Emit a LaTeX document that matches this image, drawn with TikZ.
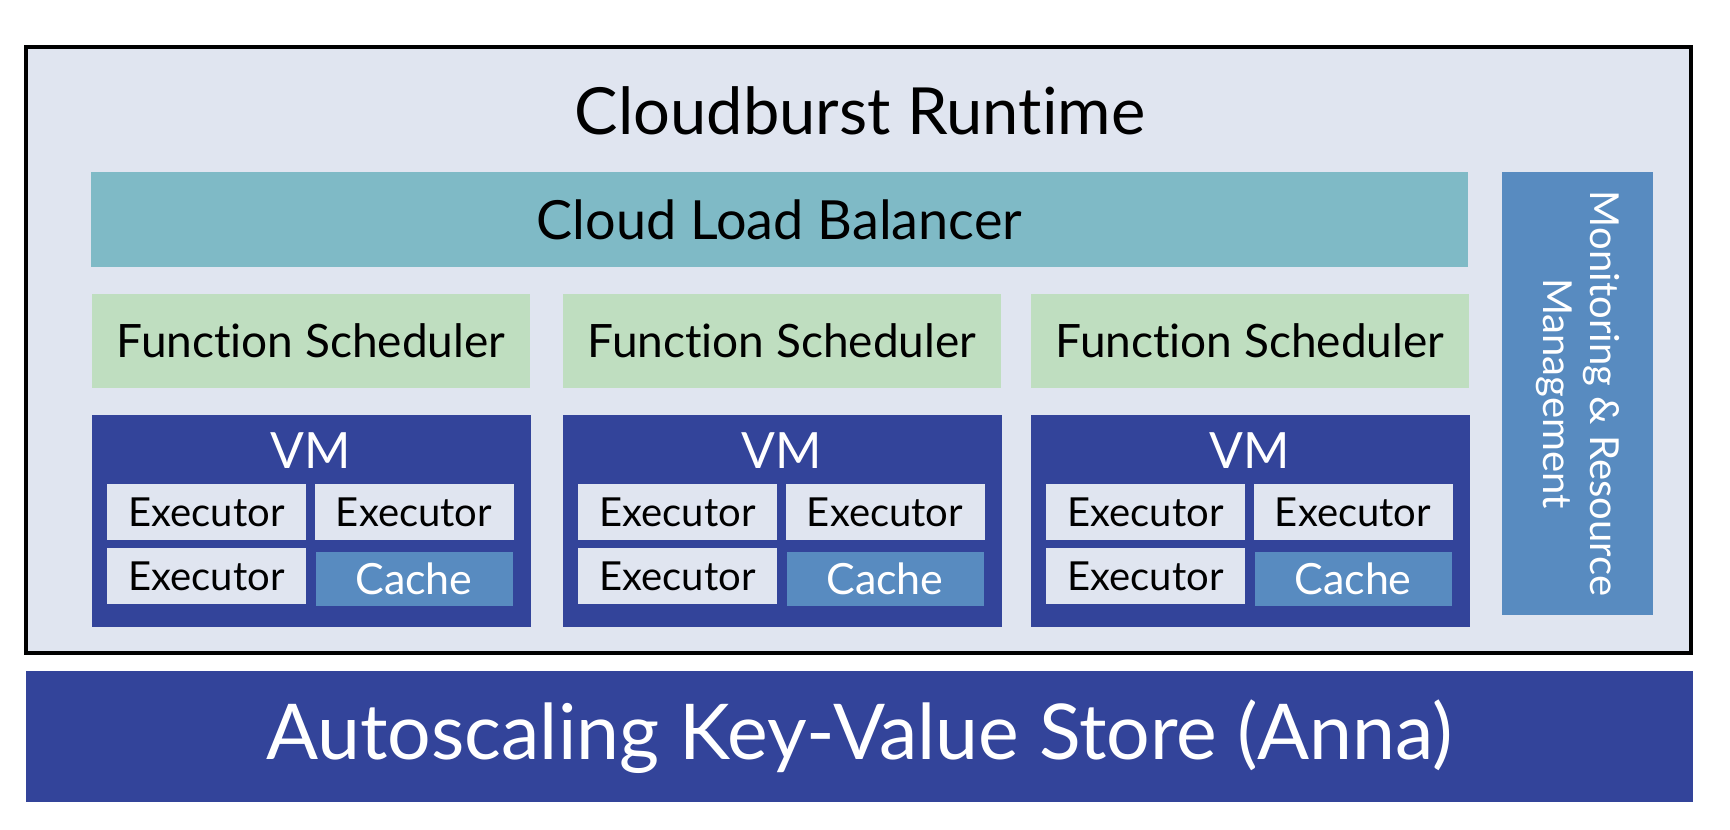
\documentclass[tikz,border=0pt]{standalone}
\usepackage{fontspec}
\setmainfont{Lato}[Ligatures=NoCommon]
\usetikzlibrary{calc}
\definecolor{bgpanel}{RGB}{224,229,240}
\definecolor{lbteal}{RGB}{127,186,198}
\definecolor{schedgreen}{RGB}{191,222,192}
\definecolor{vmblue}{RGB}{51,68,154}
\definecolor{cacheblue}{RGB}{88,139,192}
\begin{document}
\begin{tikzpicture}[x=1pt,y=-1pt,
  box/.style={rectangle, inner sep=0pt, outer sep=0pt, draw=none},
  fs/.style={font=\fontsize{#1}{#1}\selectfont},
  lbbox/.style={box, fill=lbteal, minimum width=1377pt, minimum height=95pt, fs=54},
  schedbox/.style={box, fill=schedgreen, minimum width=438pt, minimum height=94pt, fs=46},
  vmbox/.style={box, fill=vmblue, minimum width=439pt, minimum height=212pt},
  vmlabel/.style={inner sep=0pt, text=white, fs=50},
  execbox/.style={box, fill=bgpanel, minimum width=199pt, minimum height=56pt, fs=40},
  cachebox/.style={box, fill=cacheblue, text=white, minimum width=197pt, minimum height=54pt, fs=43},
]
\useasboundingbox (0,0) rectangle (1730,830);
\fill[white] (0,0) rectangle (1730,830);

% outer runtime panel
\node[box, draw=black, line width=4pt, fill=bgpanel, minimum width=1665pt, minimum height=606pt] (outer) at (858.5,349.5) {};
\node[inner sep=0pt, fs=65] (title) at (860,111) {Cloudburst Runtime};

% load balancer
\node[lbbox] (lb) at (779.5,219.5) {Cloud Load Balancer};

% monitoring
\node[box, fill=cacheblue, text=white, rotate=-90, minimum width=443pt, minimum height=151pt,
      align=center, font=\fontsize{40}{47}\selectfont] (mon) at (1577.5,393.5) {Monitoring \& Resource\\Management};

% columns
\foreach \i/\cx in {1/311, 2/782, 3/1250} {
  \node[schedbox] (sched\i) at (\cx,341) {Function Scheduler};
  \node[vmbox] (vm\i) at (\cx,521) {};
  \node[vmlabel] (vmtext\i) at (\cx,451) {VM};
  \node[execbox] (exa\i) at ($(\cx,512)+(-104.5,0)$) {Executor};
  \node[execbox] (exb\i) at ($(\cx,512)+(103,0)$) {Executor};
  \node[execbox] (exc\i) at ($(\cx,576)+(-104.5,0)$) {Executor};
  \node[cachebox] (cache\i) at ($(\cx,579)+(103,0)$) {Cache};
}

% anna
\node[box, fill=vmblue, text=white, minimum width=1667pt, minimum height=131pt, fs=77] (anna) at (859.5,736.5) {Autoscaling Key-Value Store (Anna)};
\end{tikzpicture}
\end{document}
